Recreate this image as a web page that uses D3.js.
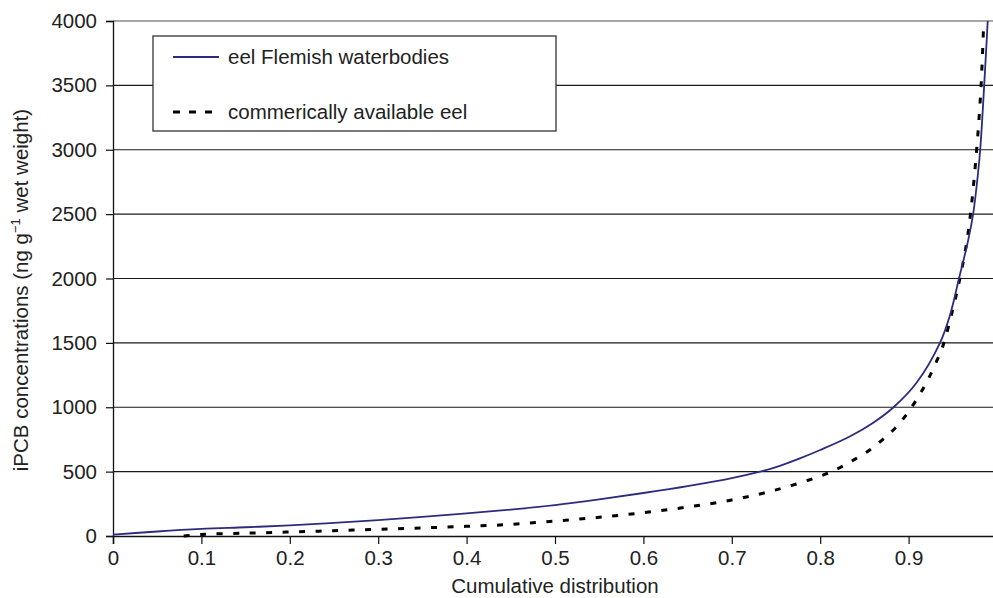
<!DOCTYPE html>
<html>
<head>
<meta charset="utf-8">
<script src="https://cdn.jsdelivr.net/npm/d3@7"></script>
<style>
  body { margin: 0; background: #fff; }
  svg text { font-family: "Liberation Sans", Arial, sans-serif; fill: #222; }
</style>
</head>
<body>
<svg id="chart" width="993" height="598"></svg>
<script>
// cumulative distribution (x) and iPCB concentration (ng/g ww)
const flemishX = [0, 0.05, 0.1, 0.15, 0.2, 0.25, 0.3, 0.35, 0.4, 0.45, 0.5, 0.55, 0.6, 0.65, 0.7,
  0.732, 0.75, 0.777, 0.8, 0.834, 0.86, 0.883, 0.909, 0.9355, 0.947, 0.957, 0.9675, 0.973, 0.977,
  0.981, 0.9855, 0.9895];
const flemishY = [10, 35, 55, 68, 82, 102, 124, 148, 175, 205, 240, 284, 334, 388, 450,
  500, 535, 603, 668, 775, 880, 1000, 1190, 1500, 1720, 2000, 2300, 2500, 2720,
  3000, 3500, 4000];

const commercialX = [0.08, 0.1, 0.15, 0.2, 0.25, 0.3, 0.35, 0.4, 0.45, 0.5, 0.55, 0.6, 0.65, 0.7,
  0.75, 0.8, 0.822, 0.839, 0.856, 0.871, 0.887, 0.899, 0.911, 0.921, 0.93, 0.9385, 0.95, 0.958,
  0.965, 0.97, 0.977, 0.982, 0.985];
const commercialY = [0, 12, 22, 31, 41, 52, 63, 75, 90, 116, 145, 181, 225, 280,
  358, 465, 530, 595, 668, 751, 854, 957, 1082, 1203, 1333, 1470, 1760, 2000,
  2250, 2500, 3000, 3500, 4000];

const xTicks = [0, 0.1, 0.2, 0.3, 0.4, 0.5, 0.6, 0.7, 0.8, 0.9, 1];
const yTicks = [0, 500, 1000, 1500, 2000, 2500, 3000, 3500, 4000];
const seriesNames = ["eel Flemish waterbodies", "commerically available eel"];

let margin = {top: 21, left: 113};
let plotRight = 997, plotBottom = 536;

const svg = d3.select("#chart");
let x = d3.scaleLinear().domain([0, 1]).range([margin.left, plotRight]);
let y = d3.scaleLinear().domain([0, 4000]).range([plotBottom, margin.top]);

/* gridlines */
svg.append("g").selectAll("line")
  .data(yTicks.filter(d => d > 0))
  .enter().append("line")
  .attr("x1", margin.left).attr("x2", 993)
  .attr("y1", d => y(d)).attr("y2", d => y(d))
  .attr("stroke", d => d === 4000 ? "#888" : "#1a1a1a")
  .attr("stroke-width", d => d === 4000 ? 1.6 : 1.2);

/* axes */
let yAxis = d3.axisLeft(y).tickValues(yTicks).tickSize(7).tickPadding(9)
  .tickFormat(d3.format("d"));
// the "1" label falls outside the picture, only the tick stays
let xAxis = d3.axisBottom(x).tickValues(xTicks).tickSize(8).tickPadding(6)
  .tickFormat(d => d === 1 ? "" : d3.format("")(d));

svg.append("g").attr("transform", "translate(" + margin.left + ",0)")
  .call(yAxis)
  .call(g => g.select(".domain").attr("stroke", "#111").attr("stroke-width", 1.3))
  .call(g => g.selectAll(".tick line").attr("stroke", "#111").attr("stroke-width", 1.2))
  .call(g => g.selectAll(".tick text").attr("font-size", 20.5)
    .attr("font-family", "Liberation Sans, Arial, sans-serif").attr("fill", "#222"));

svg.append("g").attr("transform", "translate(0," + plotBottom + ")")
  .call(xAxis)
  .call(g => g.select(".domain").attr("stroke", "#111").attr("stroke-width", 1.5))
  .call(g => g.selectAll(".tick line").attr("stroke", "#111").attr("stroke-width", 1.2))
  .call(g => g.selectAll(".tick text").attr("font-size", 20.5)
    .attr("font-family", "Liberation Sans, Arial, sans-serif").attr("fill", "#222"));

/* curves */
let line = d3.line().x(d => x(d[0])).y(d => y(d[1])).curve(d3.curveCatmullRom.alpha(0.5));

svg.append("path")
  .datum(d3.zip(commercialX, commercialY))
  .attr("d", line)
  .attr("fill", "none")
  .attr("stroke", "#000")
  .attr("stroke-width", 3)
  .attr("stroke-dasharray", "6,10.5");

svg.append("path")
  .datum(d3.zip(flemishX, flemishY))
  .attr("d", line)
  .attr("fill", "none")
  .attr("stroke", "#2e2b7e")
  .attr("stroke-width", 1.8);

/* legend */
let legend = svg.append("g");
legend.append("rect")
  .attr("x", 153).attr("y", 36).attr("width", 403).attr("height", 95)
  .attr("fill", "#fff").attr("stroke", "#333").attr("stroke-width", 1.3);
legend.append("line")
  .attr("x1", 173).attr("x2", 219).attr("y1", 57).attr("y2", 57)
  .attr("stroke", "#2e2b7e").attr("stroke-width", 1.8);
legend.append("line")
  .attr("x1", 173).attr("x2", 219).attr("y1", 112).attr("y2", 112)
  .attr("stroke", "#000").attr("stroke-width", 3).attr("stroke-dasharray", "7,9");
legend.append("text").text(seriesNames[0])
  .attr("x", 228).attr("y", 64).attr("font-size", 20.5);
legend.append("text").text(seriesNames[1])
  .attr("x", 228).attr("y", 119).attr("font-size", 20.5);

/* axis titles */
svg.append("text").text("Cumulative distribution")
  .attr("x", 555).attr("y", 593).attr("text-anchor", "middle").attr("font-size", 20.5);

let yTitle = svg.append("text")
  .attr("transform", "translate(28,290) rotate(-90)")
  .attr("text-anchor", "middle").attr("font-size", 20.5);
yTitle.append("tspan").text("iPCB concentrations (ng g");
yTitle.append("tspan").text("\u22121").attr("font-size", 13).attr("dy", -8);
yTitle.append("tspan").text(" wet weight)").attr("dy", 8);
</script>
</body>
</html>
